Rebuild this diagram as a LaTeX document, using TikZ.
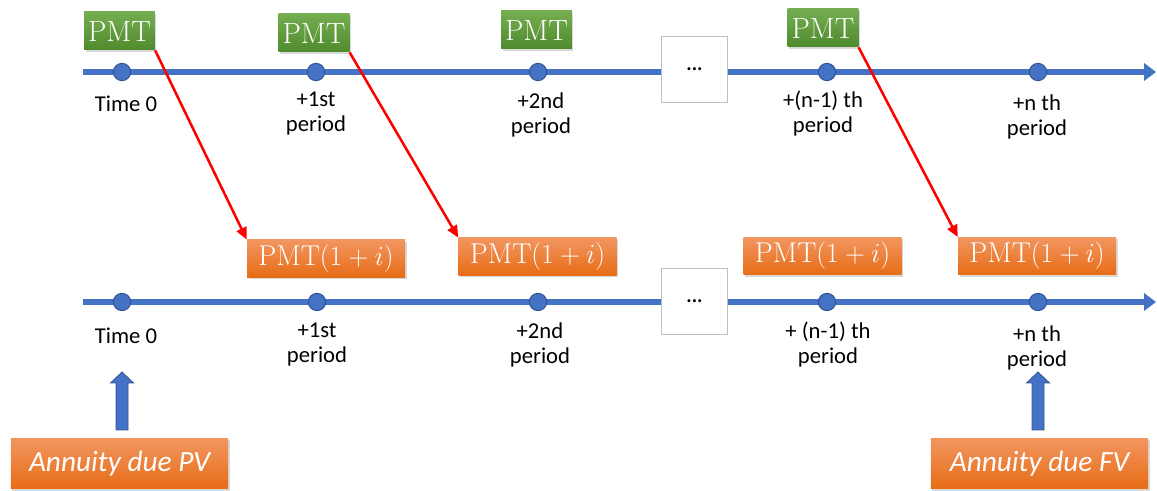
\documentclass[tikz,border=0pt]{standalone}
\usepackage{fontspec}
\newfontfamily\cbr{Carlito}
\usetikzlibrary{arrows.meta,shadows}
\definecolor{tlblue}{HTML}{4472C4}
\definecolor{tlborder}{HTML}{2F528F}
\definecolor{gtop}{HTML}{74AE50}
\definecolor{gbot}{HTML}{4F8A2C}
\definecolor{otop}{HTML}{F29660}
\definecolor{obot}{HTML}{E76C16}
\definecolor{boxgray}{HTML}{BFBFBF}
\definecolor{redarrow}{HTML}{FF0000}
\begin{document}
\begin{tikzpicture}[x=0.75pt,y=-0.75pt,
  tline/.style={draw=tlblue, line width=4.5pt, -{Triangle[length=9pt,width=13pt]}},
  tdot/.style={circle, fill=tlblue, draw=tlborder, line width=0.7pt, minimum size=13pt, inner sep=0pt},
  dotsbox/.style={rectangle, fill=white, draw=boxgray, line width=0.7pt, minimum width=50pt, minimum height=50pt, inner sep=0pt, font=\cbr\bfseries\fontsize{15}{17}\selectfont},
  lbl/.style={font=\cbr\fontsize{17}{18.75}\selectfont, align=center, inner sep=0pt},
  shad/.style={drop shadow={shadow xshift=1.2pt, shadow yshift=-1.5pt, opacity=0.3}},
  pmtbox/.style={shad, rectangle, top color=gtop, bottom color=gbot, text=white, font=\fontsize{22}{24}\selectfont, minimum width=53pt, minimum height=28.5pt, inner sep=0pt},
  fvbox/.style={shad, rectangle, top color=otop, bottom color=obot, text=white, font=\fontsize{21.5}{24}\selectfont, minimum width=118.5pt, minimum height=28pt, inner sep=0pt},
  anbox/.style={shad, rectangle, top color=otop, bottom color=obot, text=white, font=\cbr\itshape\fontsize{22}{26}\selectfont, minimum width=163pt, minimum height=38pt, inner sep=0pt},
  redarr/.style={draw=redarrow, line width=1.9pt, -{Triangle[length=9pt,width=8pt]}},
  blockarr/.style={fill=tlblue, draw=tlborder, line width=0.6pt}
]
\path[use as bounding box] (0,0) rectangle (1157,491);

% ---------- top timeline ----------
\coordinate (ts) at (83,72);
\coordinate (te) at (1156,72);
\draw[tline] (ts) -- (te);
\node[dotsbox] (tdots) at (694.5,69.5) {...};
\node[tdot] (t0) at (122,72) {};
\node[tdot] (t1) at (316,72) {};
\node[tdot] (t2) at (538,72) {};
\node[tdot] (t3) at (827,72) {};
\node[tdot] (t4) at (1038,72) {};
\node[lbl] (tl0) at (126,104) {Time 0};
\node[lbl] (tl1) at (316,113.5) {+1st\\period};
\node[lbl] (tl2) at (541,114.5) {+2nd\\period};
\node[lbl] (tl3) at (823,113.5) {+(n-1) th\\period};
\node[lbl] (tl4) at (1037,117) {+n th\\period};

\node[pmtbox] (p1) at (119.5,31) {PMT};
\node[pmtbox] (p2) at (314,33) {PMT};
\node[pmtbox] (p3) at (536.5,30) {PMT};
\node[pmtbox] (p4) at (823,28) {PMT};

% ---------- bottom timeline ----------
\coordinate (bs) at (83,302);
\coordinate (be) at (1156,302);
\draw[tline] (bs) -- (be);
\node[dotsbox] (bdots) at (694.5,301.5) {...};
\node[tdot] (b0) at (122,302) {};
\node[tdot] (b1) at (317,302) {};
\node[tdot] (b2) at (538,302) {};
\node[tdot] (b3) at (827,302) {};
\node[tdot] (b4) at (1038,302) {};
\node[lbl] (bl0) at (126,336) {Time 0};
\node[lbl] (bl1) at (317,345) {+1st\\period};
\node[lbl] (bl2) at (540,344.5) {+2nd\\period};
\node[lbl] (bl3) at (828,344.5) {+ (n-1) th\\period};
\node[lbl] (bl4) at (1037,347.5) {+n th\\period};

\node[fvbox] (o1) at (326,258.5) {$\mathrm{PMT}(1+i)$};
\node[fvbox] (o2) at (537.5,256.5) {$\mathrm{PMT}(1+i)$};
\node[fvbox] (o3) at (822.5,256) {$\mathrm{PMT}(1+i)$};
\node[fvbox] (o4) at (1037,256) {$\mathrm{PMT}(1+i)$};

% ---------- red arrows ----------
\draw[redarr] (p1.south east) -- (o1.north west);
\draw[redarr] (p2.south east) -- (o2.north west);
\draw[redarr] (p4.south east) -- (o4.north west);

% ---------- bottom result boxes ----------
\node[anbox] (pv) at (119.5,463.5) {Annuity due PV};
\node[anbox] (fv) at (1039.5,463.5) {Annuity due FV};

\coordinate (pvtip) at (122,372);
\coordinate (fvtip) at (1038,372);
\path[blockarr] (pvtip) -- ++(11.5,11) -- ++(-5.5,0) -- ++(0,47) -- ++(-12,0) -- ++(0,-47) -- ++(-5.5,0) -- cycle;
\path[blockarr] (fvtip) -- ++(11.5,11) -- ++(-5.5,0) -- ++(0,47) -- ++(-12,0) -- ++(0,-47) -- ++(-5.5,0) -- cycle;
\end{tikzpicture}
\end{document}
